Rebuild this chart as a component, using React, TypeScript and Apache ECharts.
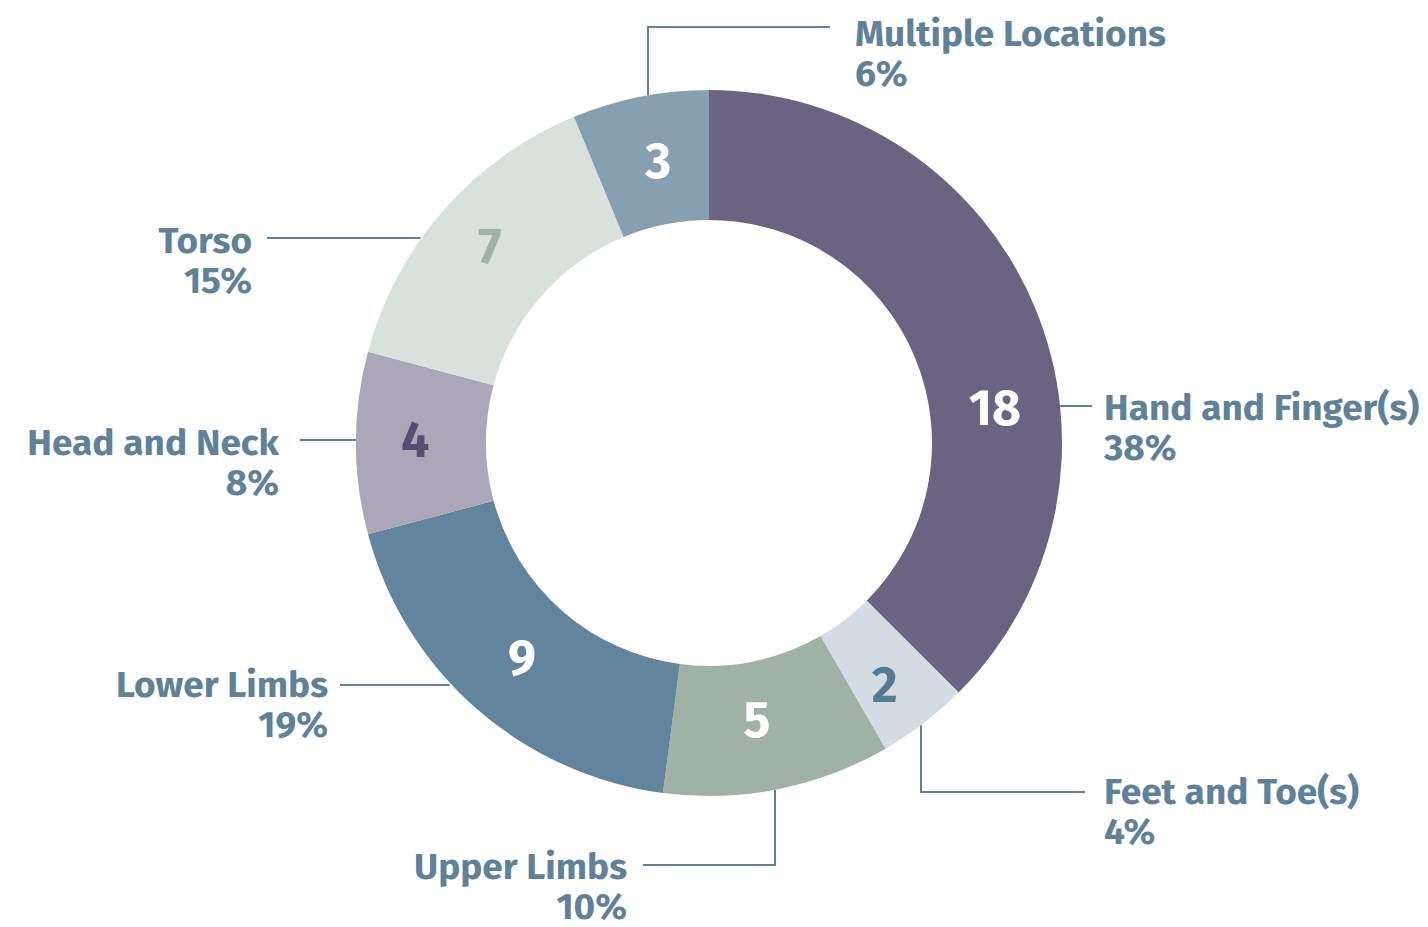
import React, { useEffect, useRef } from "react";
import * as echarts from "echarts";

const categories = [
  "Hand and Finger(s)",
  "Feet and Toe(s)",
  "Upper Limbs",
  "Lower Limbs",
  "Head and Neck",
  "Torso",
  "Multiple Locations",
];
const values = [18, 2, 5, 9, 4, 7, 3];
const sliceColors = ["#6a6482", "#d3dce3", "#a0b2a6", "#62849c", "#aba7b9", "#d9e1dd", "#86a0b1"];
const numberColors = ["#ffffff", "#557a93", "#ffffff", "#ffffff", "#564e72", "#a0b2a6", "#ffffff"];

const CX = 709;
const CY = 443;
const R_IN = 223;
const R_OUT = 353;
const TEXT = "#5f8299";
const FONT = "'Fira Sans', Roboto, 'Noto Sans', sans-serif";

// inner number placement (angle clockwise from top, radius)
const numberPlacement = [
  [83, 288],
  [144, 299],
  [170.2, 281],
  [221, 285],
  [270.6, 294],
  [312, 295],
  [349.8, 287],
];

// outer label layout: angle (deg clockwise from top) where the leader leaves the ring,
// the remaining leader points, and the text anchor
type LabelSpec = { angle: number; pts: number[][]; x: number; y: number; align: "left" | "right" };
const labelSpecs: LabelSpec[] = [
  { angle: 84, pts: [[1092, 406]], x: 1104, y: 387, align: "left" },
  { angle: 143.1, pts: [[921, 792], [1085, 792]], x: 1104, y: 771, align: "left" },
  { angle: 169.2, pts: [[775, 865], [643, 865]], x: 627, y: 846, align: "right" },
  { angle: 227.3, pts: [[340, 685]], x: 328, y: 664, align: "right" },
  { angle: 270.5, pts: [[300, 440]], x: 279, y: 422, align: "right" },
  { angle: 305.2, pts: [[267, 238]], x: 252, y: 220, align: "right" },
  { angle: 350.1, pts: [[648, 27], [830, 27]], x: 855, y: 13, align: "left" },
];

function edgePoint(angle: number, r: number) {
  const a = (angle * Math.PI) / 180;
  return [CX + r * Math.sin(a), CY - r * Math.cos(a)];
}

export default function App() {
  const ref = useRef<HTMLDivElement>(null);
  useEffect(() => {
    if (!ref.current) return;
    const chart = echarts.init(ref.current, null, { renderer: "svg" });
    const data = categories.map((name, i) => ({
      name,
      value: values[i],
      itemStyle: { color: sliceColors[i] },
      label: { color: numberColors[i] },
    }));
    chart.setOption({
      animation: false,
      backgroundColor: "#ffffff",
      series: [
        {
          type: "pie",
          center: [CX, CY],
          radius: [R_IN, R_OUT],
          startAngle: 90,
          clockwise: true,
          silent: true,
          data,
          label: {
            show: true,
            position: "inside",
            formatter: "{c}",
            fontSize: 50,
            fontWeight: "bold",
            fontFamily: FONT,
          },
          labelLine: { show: false },
          labelLayout: (p: any) => {
            const [ang, r] = numberPlacement[p.dataIndex];
            const [x, y] = edgePoint(ang, r);
            return { x, y, align: "center", verticalAlign: "middle" };
          },
        },
        {
          type: "pie",
          center: [CX, CY],
          radius: [R_IN, R_OUT],
          startAngle: 90,
          clockwise: true,
          silent: true,
          percentPrecision: 0,
          data: categories.map((name, i) => ({ name, value: values[i] })),
          itemStyle: { color: "rgba(0,0,0,0)" },
          label: {
            show: true,
            position: "outside",
            formatter: "{b}\n{d}%",
            color: TEXT,
            fontSize: 37,
            lineHeight: 40,
            fontWeight: "bold",
            fontFamily: FONT,
          },
          labelLine: { show: true, lineStyle: { color: TEXT, width: 2 } },
          labelLayout: (p: any) => {
            const s = labelSpecs[p.dataIndex];
            const start = edgePoint(s.angle, R_OUT);
            let first = start;
            if (s.pts.length === 1) first = [start[0], s.pts[0][1]];
            else first = [s.pts[0][0], start[1]];
            return {
              x: s.x,
              y: s.y,
              align: s.align,
              verticalAlign: "top",
              labelLinePoints: [first, ...s.pts],
            };
          },
        },
      ],
    });
    return () => chart.dispose();
  }, []);
  return (
    <div
      ref={ref}
      style={{ position: "fixed", left: 0, top: 0, width: 1428, height: 927 }}
    />
  );
}
